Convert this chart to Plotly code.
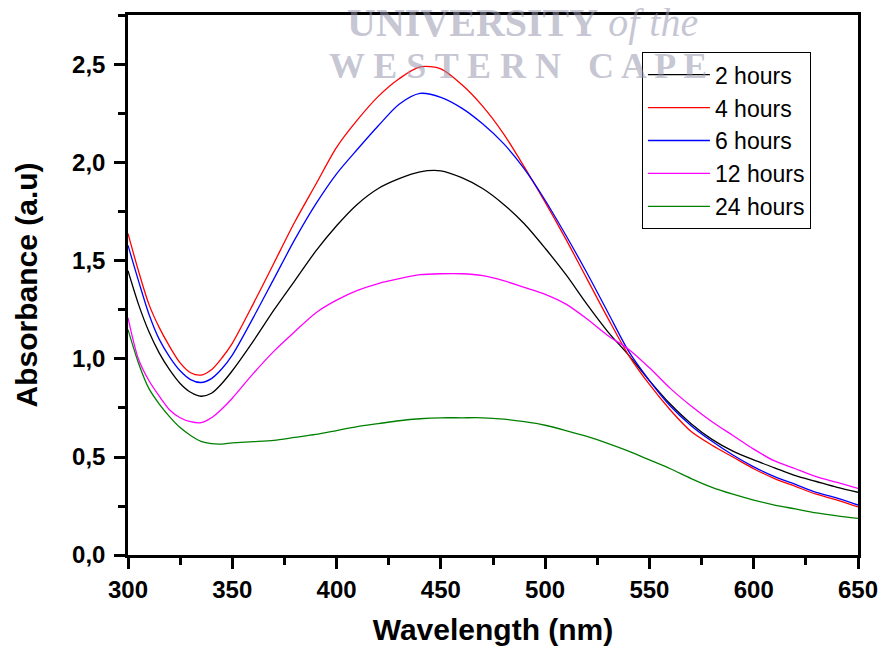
import plotly.graph_objects as go

wavelength = [300, 305, 310, 315, 320, 325, 330, 335, 340, 345, 350, 360, 370, 380, 390,
              400, 410, 420, 430, 440, 450, 460, 470, 480, 490, 500, 510, 520, 530, 540,
              550, 560, 570, 580, 590, 600, 610, 620, 630, 640, 650]

abs_2h = [1.45, 1.28, 1.14, 1.03, 0.944, 0.875, 0.83, 0.81, 0.825, 0.875, 0.94, 1.09, 1.25,
          1.40, 1.55, 1.68, 1.79, 1.87, 1.92, 1.955, 1.96, 1.925, 1.87, 1.79, 1.69, 1.565,
          1.43, 1.28, 1.14, 1.02, 0.89, 0.77, 0.67, 0.59, 0.53, 0.485, 0.445, 0.405, 0.375,
          0.345, 0.32]
abs_4h = [1.64, 1.45, 1.28, 1.16, 1.063, 0.98, 0.93, 0.918, 0.945, 1.005, 1.08, 1.28, 1.49,
          1.70, 1.89, 2.08, 2.22, 2.34, 2.43, 2.49, 2.48, 2.40, 2.29, 2.15, 1.98, 1.80,
          1.61, 1.41, 1.21, 1.02, 0.87, 0.74, 0.63, 0.56, 0.50, 0.44, 0.39, 0.35, 0.31,
          0.28, 0.245]
abs_6h = [1.58, 1.40, 1.23, 1.10, 1.01, 0.94, 0.895, 0.88, 0.90, 0.95, 1.02, 1.21, 1.41,
          1.61, 1.79, 1.945, 2.07, 2.19, 2.30, 2.355, 2.335, 2.28, 2.20, 2.10, 1.97, 1.81,
          1.63, 1.44, 1.24, 1.04, 0.89, 0.76, 0.66, 0.58, 0.51, 0.45, 0.40, 0.36, 0.32,
          0.29, 0.255]
abs_12h = [1.21, 1.00, 0.89, 0.81, 0.74, 0.70, 0.68, 0.675, 0.70, 0.745, 0.80, 0.925, 1.04,
           1.14, 1.235, 1.30, 1.35, 1.385, 1.41, 1.43, 1.435, 1.435, 1.425, 1.40, 1.365,
           1.33, 1.28, 1.205, 1.12, 1.05, 0.955, 0.85, 0.76, 0.68, 0.61, 0.54, 0.48, 0.44,
           0.40, 0.37, 0.34]
abs_24h = [1.15, 0.98, 0.85, 0.77, 0.705, 0.65, 0.61, 0.58, 0.568, 0.566, 0.572, 0.578,
           0.585, 0.60, 0.615, 0.635, 0.655, 0.67, 0.685, 0.695, 0.70, 0.70, 0.70, 0.693,
           0.68, 0.662, 0.635, 0.605, 0.57, 0.53, 0.485, 0.44, 0.39, 0.345, 0.31, 0.28,
           0.255, 0.235, 0.215, 0.20, 0.187]

series_names = ["2 hours", "4 hours", "6 hours", "12 hours", "24 hours"]
series_values = [abs_2h, abs_4h, abs_6h, abs_12h, abs_24h]
series_colors = ["#000000", "#ff0000", "#0000ff", "#ff00ff", "#008000"]

x_tickvals = [300, 350, 400, 450, 500, 550, 600, 650]
x_ticktext = ["300", "350", "400", "450", "500", "550", "600", "650"]
y_tickvals = [0.0, 0.5, 1.0, 1.5, 2.0, 2.5]
y_ticktext = ["0,0", "0,5", "1,0", "1,5", "2,0", "2,5"]

FONT = "Arial, 'Liberation Sans', sans-serif"
SERIF = "'Liberation Serif', 'DejaVu Serif', serif"
WM_COLOR = "rgba(150,150,175,0.55)"

fig = go.Figure()
for i, (name, vals, col) in enumerate(zip(series_names, series_values, series_colors)):
    fig.add_trace(go.Scatter(
        x=wavelength, y=vals, mode="lines", name=name,
        line=dict(color=col, width=1.3, shape="spline", smoothing=0.8),
        legendgroup=f"g{i}",
    ))

axis_common = dict(
    showgrid=False, zeroline=False, showline=True, linecolor="black", linewidth=2.5,
    mirror=True, ticks="outside", tickcolor="black", tickwidth=2.5, ticklen=11,
    tickfont=dict(family=FONT, size=24, color="black", weight="bold"),
    automargin=False,
)

fig.update_xaxes(
    range=[300, 650], tickvals=x_tickvals, ticktext=x_ticktext,
    minor=dict(dtick=25, tick0=300, ticks="outside", ticklen=7, tickwidth=2.5, tickcolor="black"),
    title=dict(text="Wavelength (nm)", font=dict(family=FONT, size=30, color="black", weight="bold"),
               standoff=18),
    **axis_common,
)
fig.update_yaxes(
    range=[0, 2.755], tickvals=y_tickvals, ticktext=y_ticktext,
    minor=dict(dtick=0.25, tick0=0, ticks="outside", ticklen=7, tickwidth=2.5, tickcolor="black"),
    ticklabelstandoff=4,
    title=dict(text="Absorbance (a.u)", font=dict(family=FONT, size=30, color="black", weight="bold"),
               standoff=26),
    **axis_common,
)

# faint watermark of the source document
fig.add_annotation(xref="paper", yref="paper", x=0.54, y=1.0, xanchor="center", yanchor="middle",
                   yshift=-7, showarrow=False,
                   text="<b>UNIVERSITY</b> <i>of the</i>",
                   font=dict(family=SERIF, size=40, color=WM_COLOR))
fig.add_annotation(xref="paper", yref="paper", x=0.5336, y=0.905, xanchor="center", yanchor="middle",
                   showarrow=False,
                   text="<b>W E S T E R N   C A P E</b>",
                   font=dict(family=SERIF, size=36, color=WM_COLOR))

fig.update_layout(
    width=882, height=649,
    margin=dict(l=128, r=24, t=15, b=94),
    paper_bgcolor="white", plot_bgcolor="white",
    font=dict(family=FONT, color="black"),
    showlegend=True,
    legend=dict(
        x=0.704, y=0.931, xanchor="left", yanchor="top",
        bgcolor="rgba(255,255,255,0)", bordercolor="black", borderwidth=1,
        font=dict(family=FONT, size=23, color="black"),
        itemwidth=62, tracegroupgap=0,
    ),
)

fig.write_html("out.html")
